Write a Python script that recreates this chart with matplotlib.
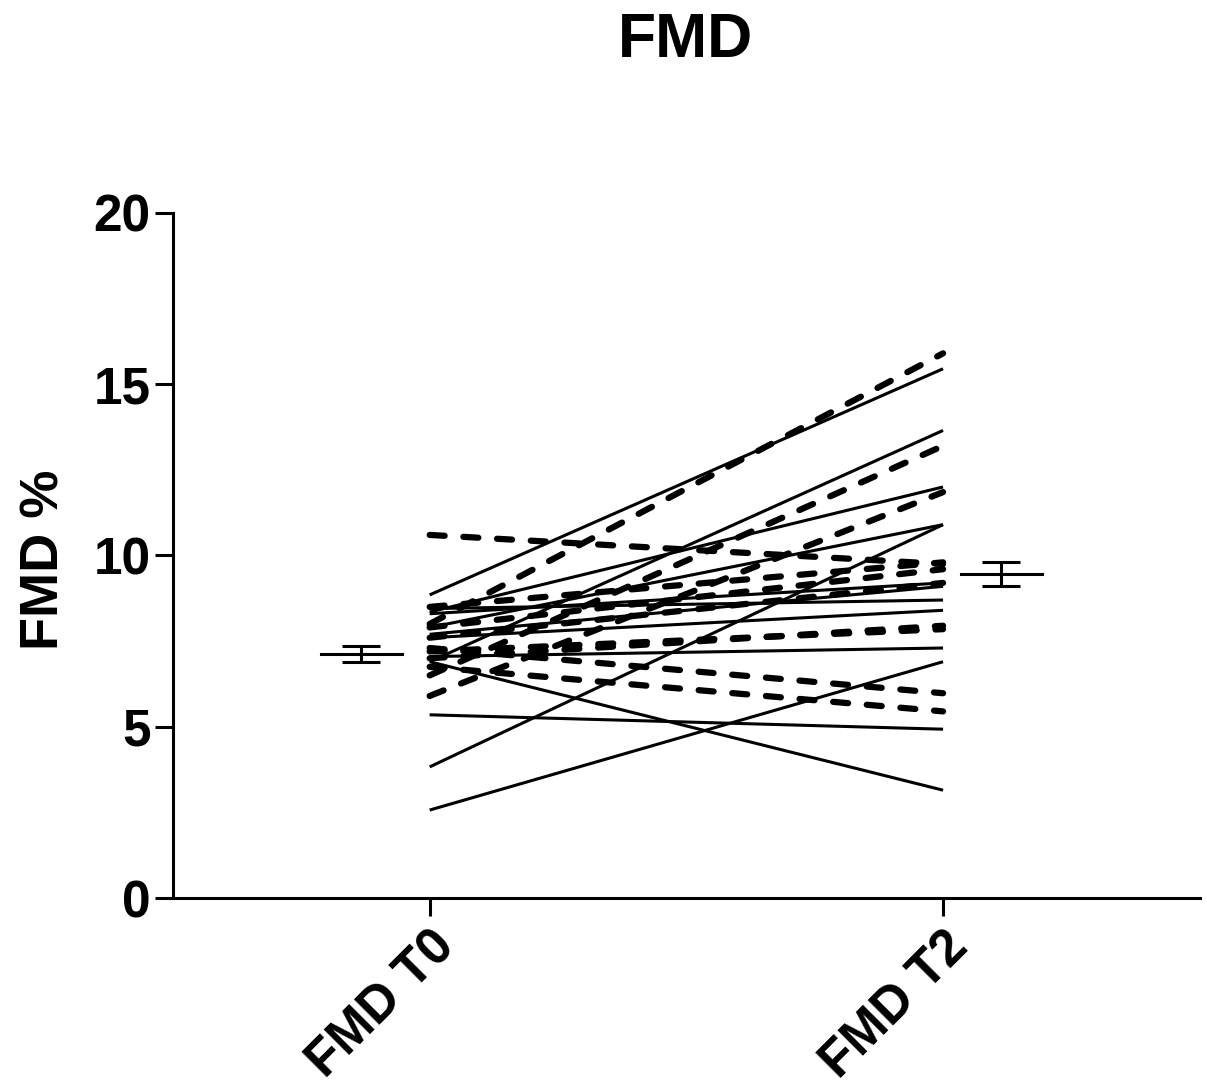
import matplotlib
matplotlib.use("Agg")
import matplotlib.pyplot as plt

plt.rcParams['font.family'] = ['Liberation Sans', 'DejaVu Sans']
plt.rcParams['font.weight'] = 'bold'

categories = ["FMD T0", "FMD T2"]

solid_t0 = [8.85, 6.9, 8.35, 7.9, 3.83, 8.3, 8.45, 7.6, 7.05, 6.9, 5.35, 2.57, 7.7]
solid_t2 = [15.45, 13.65, 12.0, 10.9, 10.9, 9.2, 8.7, 8.4, 7.3, 3.15, 4.93, 6.9, 9.1]

dashed_t0 = [8.0, 6.5, 5.9, 10.6, 8.5, 7.9, 7.6, 7.0, 7.3, 6.75, 7.2]
dashed_t2 = [15.9, 13.2, 11.85, 9.75, 9.8, 9.6, 9.2, 7.95, 5.98, 5.45, 7.85]

mean_vals = [7.13, 9.45]
sem_vals = [0.23, 0.35]
mean_offsets = [-0.133, 0.113]

yticks = [0, 5, 10, 15, 20]

fig = plt.figure(figsize=(12.07, 10.86), dpi=100)
ax = fig.add_axes([0.1433, 0.173, 0.8507, 0.631])

xpos = [0, 1]
for a, b in zip(solid_t0, solid_t2):
    ax.plot(xpos, [a, b], color='black', lw=2.2, solid_capstyle='butt')
for a, b in zip(dashed_t0, dashed_t2):
    ax.plot(xpos, [a, b], color='black', lw=4.5, linestyle=(0, (2.4, 3.0)),
            dash_capstyle='round')

for i, (m, s) in enumerate(zip(mean_vals, sem_vals)):
    xc = xpos[i] + mean_offsets[i]
    ax.plot([xc - 0.079, xc + 0.079], [m, m], color='black', lw=2.2)
    ax.errorbar([xc], [m], yerr=[s], fmt='none', ecolor='black', elinewidth=2.2,
                capsize=14, capthick=2.2)

ax.set_xlim(-0.5, 1.5)
ax.set_ylim(0, 20)
ax.set_yticks(yticks)
ax.set_yticklabels([str(v) for v in yticks], fontsize=37, fontweight='bold')
ax.set_xticks(xpos)
ax.set_xticklabels(categories, fontsize=37, fontweight='bold', rotation=45,
                   ha='right', rotation_mode='anchor')
ax.tick_params(axis='both', length=13, width=2.2, color='black')
ax.tick_params(axis='y', pad=3)
ax.tick_params(axis='x', pad=4)
for sp in ['top', 'right']:
    ax.spines[sp].set_visible(False)
for sp in ['left', 'bottom']:
    ax.spines[sp].set_linewidth(2.2)
ax.spines['bottom'].set_bounds(-0.5, 1.5)

ax.set_ylabel("FMD %", fontsize=39, fontweight='bold')
ax.yaxis.set_label_coords(-0.1003, 0.493)
fig.text(0.568, 0.9475, "FMD", fontsize=45, fontweight='bold', ha='center', va='baseline')

fig.savefig("out.png", dpi=100, facecolor='white')
